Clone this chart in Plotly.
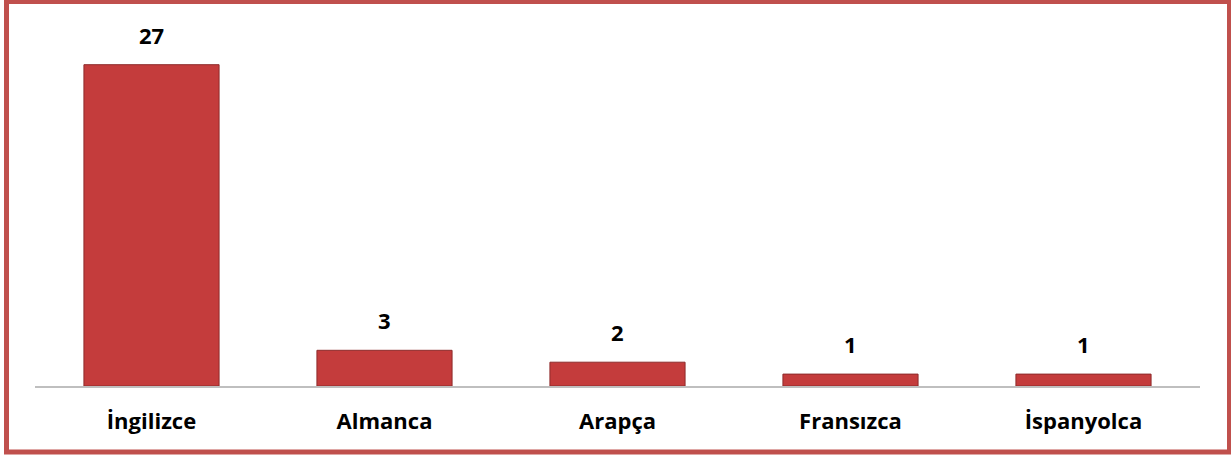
import plotly.graph_objects as go

categories = ["İngilizce", "Almanca", "Arapça", "Fransızca", "İspanyolca"]
values = [27, 3, 2, 1, 1]

W, H = 1231, 457
ML, MR, MT, MB = 35, 31, 29, 71
PW = W - ML - MR
PH = H - MT - MB

def px_x(p):
    return (p - ML) / PW

def px_y(p):
    return (H - MB - p) / PH

FONT = "Open Sans"

fig = go.Figure()
fig.add_trace(go.Bar(
    x=categories,
    y=values,
    marker=dict(color="#c43c3c", line=dict(color="#8e2b2b", width=1)),
    width=0.58,
    hoverinfo="x+y",
))

for c, v in zip(categories, values):
    fig.add_annotation(
        x=c, y=v, text=f"<b>{v}</b>", showarrow=False,
        yanchor="bottom", yshift=13,
        font=dict(family=FONT, size=22, color="#000000"),
    )

# outer red frame
fig.add_shape(
    type="rect", xref="paper", yref="paper",
    x0=px_x(6.5), x1=px_x(1229.5), y0=px_y(452), y1=px_y(1.5),
    line=dict(color="#c0504d", width=5), fillcolor="rgba(0,0,0,0)",
    layer="below",
)

fig.update_layout(
    width=W, height=H,
    margin=dict(l=ML, r=MR, t=MT, b=MB),
    paper_bgcolor="white", plot_bgcolor="white",
    showlegend=False,
    font=dict(family=FONT, color="#000000"),
    xaxis=dict(
        showline=True, linecolor="#bfbfbf", linewidth=1.5,
        ticks="", showgrid=False, zeroline=False,
        tickfont=dict(family=FONT, size=22, color="#000000", weight="bold"),
        ticklabelstandoff=15,
        fixedrange=True,
    ),
    yaxis=dict(
        range=[0, 30], visible=False, showgrid=False, zeroline=False,
        fixedrange=True,
    ),
)

fig.write_html(
    "out.html",
    config={"displayModeBar": False},
    post_script="document.body.style.margin='0px';document.body.style.overflow='hidden';",
)
